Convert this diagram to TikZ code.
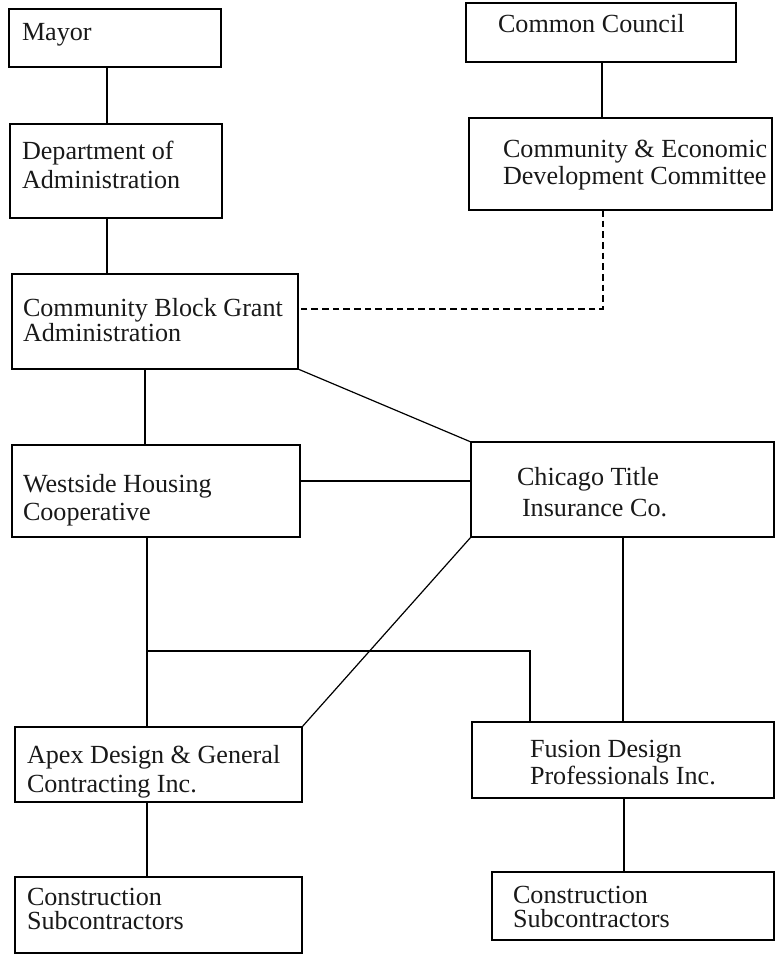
\documentclass[tikz,border=0pt]{standalone}
\usepackage{fontspec}
\setmainfont{Liberation Serif}
\begin{document}
\begin{tikzpicture}[x=0.75pt,y=-0.75pt,
  orgbox/.style={draw=black, line width=1pt, anchor=north west, inner sep=0pt, outer sep=0pt},
  lbl/.style={anchor=base west, inner sep=0pt, outer sep=0pt, text=black!90,
              font=\fontsize{19.6}{22}\selectfont},
  link/.style={draw=black, line width=0.9pt},
  dashlink/.style={draw=black, line width=0.9pt, dash pattern=on 5pt off 3pt}]
\useasboundingbox (0,0) rectangle (775,954);

% box: name, left, top, right, bottom (pixel grid)
\newcommand\orgunit[5]{%
  \node[orgbox, minimum width={(#4-#2)*0.75pt}, minimum height={(#5-#3)*0.75pt}] (#1) at (#2,#3) {};}

\orgunit{mayor}{9}{9}{221}{67}
\orgunit{dept}{10}{124}{222}{218}
\orgunit{council}{466}{3}{736}{62}
\orgunit{ced}{469}{118}{772}{210}
\orgunit{cbga}{12}{274}{298}{369}
\orgunit{westside}{12}{445}{300}{537}
\orgunit{chicago}{471}{442}{774}{537}
\orgunit{apex}{15}{727}{302}{802}
\orgunit{fusion}{472}{722}{774}{798}
\orgunit{subl}{15}{877}{302}{953}
\orgunit{subr}{492}{872}{774}{940}

% box texts
\node[lbl] (t-mayor) at (22,40) {Mayor};
\node[lbl] (t-dept1) at (22,159) {Department of};
\node[lbl] (t-dept2) at (22,188) {Administration};
\node[lbl] (t-council) at (498,32) {Common Council};
\node[lbl] (t-ced1) at (503,157) {Community \& Economic};
\node[lbl] (t-ced2) at (503,184) {Development Committee};
\node[lbl] (t-cbga1) at (23,316) {Community Block Grant};
\node[lbl] (t-cbga2) at (23,341) {Administration};
\node[lbl] (t-west1) at (23,492) {Westside Housing};
\node[lbl] (t-west2) at (23,520) {Cooperative};
\node[lbl] (t-chi1) at (517,485) {Chicago Title};
\node[lbl] (t-chi2) at (522,516) {Insurance Co.};
\node[lbl] (t-apex1) at (27,763) {Apex Design \& General};
\node[lbl] (t-apex2) at (27,792) {Contracting Inc.};
\node[lbl] (t-fus1) at (530,757) {Fusion Design};
\node[lbl] (t-fus2) at (530,784) {Professionals Inc.};
\node[lbl] (t-subl1) at (27,905) {Construction};
\node[lbl] (t-subl2) at (27,929) {Subcontractors};
\node[lbl] (t-subr1) at (513,903) {Construction};
\node[lbl] (t-subr2) at (513,927) {Subcontractors};

% reporting lines
\draw[link] (107,0 |- mayor.south) -- (107,0 |- dept.north);
\draw[link] (107,0 |- dept.south) -- (107,0 |- cbga.north);
\draw[link] (602,0 |- council.south) -- (602,0 |- ced.north);
\draw[dashlink] (603,0 |- ced.south) |- (cbga.east |- 0,309);
\draw[link] (145,0 |- cbga.south) -- (145,0 |- westside.north);
\draw[link] (cbga.south east) -- (chicago.north west);
\draw[link] (westside.east |- 0,481) -- (chicago.west |- 0,481);
\draw[link] (147,0 |- westside.south) -- (147,0 |- apex.north);
\coordinate (jn) at (147,651);
\draw[link] (jn) -- (530,0 |- jn) -- (530,0 |- fusion.north);
\draw[link] (chicago.south west) -- (apex.north east);
\draw[link] (623,0 |- chicago.south) -- (623,0 |- fusion.north);
\draw[link] (147,0 |- apex.south) -- (147,0 |- subl.north);
\draw[link] (624,0 |- fusion.south) -- (624,0 |- subr.north);
\end{tikzpicture}
\end{document}
